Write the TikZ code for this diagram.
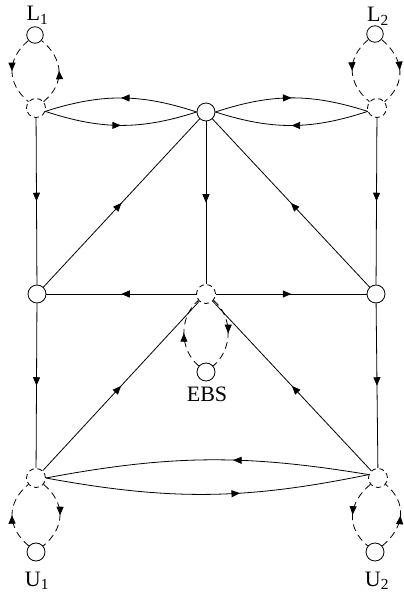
\documentclass[tikz,border=0pt]{standalone}
\usepackage{fontspec}
\setmainfont{Liberation Serif}
\usetikzlibrary{arrows.meta,decorations.markings}
\begin{document}
\begin{tikzpicture}[x=1pt,y=1pt,line width=0.8pt,
  snode/.style={circle,draw,solid,minimum size=18pt,inner sep=0pt},
  smallnode/.style={circle,draw,solid,minimum size=16.5pt,inner sep=0pt},
  dnode/.style={circle,draw,dash pattern=on 5pt off 3.5pt,minimum size=19pt,inner sep=0pt},
  loopline/.style={dash pattern=on 7pt off 4.5pt},
  lbl/.style={font=\fontsize{22}{24}\selectfont,inner sep=0pt,anchor=base},
  midarrow/.style={postaction={decorate},decoration={markings,mark=at position #1 with {\arrow{Triangle[length=8.5pt,width=7pt]}}}},
  midarrow/.default=0.5]
\useasboundingbox (0,0) rectangle (404,598);
% main nodes
\node[dnode] (TL) at (36,490) {};
\node[snode] (TC) at (206,486) {};
\node[dnode] (TR) at (377,490) {};
\node[snode] (ML) at (37,304) {};
\node[dnode] (MC) at (206,304) {};
\node[snode] (MR) at (376,304) {};
\node[dnode] (BL) at (36,120) {};
\node[dnode] (BR) at (378,120) {};
% outer nodes
\node[smallnode] (L1) at (35,563) {};
\node[smallnode] (L2) at (375,564) {};
\node[snode] (EBS) at (206,226) {};
\node[snode] (U1) at (36,46) {};
\node[snode] (U2) at (375,46) {};
% labels
\node[lbl] (L1t) at (37.5,577) {L\textsubscript{1}};
\node[lbl] (L2t) at (378,576) {L\textsubscript{2}};
\node[lbl] (EBSt) at (207,196) {EBS};
\node[lbl] (U1t) at (37,12) {U\textsubscript{1}};
\node[lbl] (U2t) at (377,12) {U\textsubscript{2}};
% straight edges
\draw[midarrow] (TL) -- (ML);
\draw[midarrow] (ML) -- (BL);
\draw[midarrow] (TR) -- (MR);
\draw[midarrow] (MR) -- (BR);
\draw[midarrow] (TC) -- (MC);
\draw[midarrow] (ML) -- (TC);
\draw[midarrow] (MR) -- (TC);
\draw[midarrow] (MC) -- (ML);
\draw[midarrow] (MC) -- (MR);
\draw[midarrow] (BL) -- (MC);
\draw[midarrow] (BR) -- (MC);
% curved pairs
\draw[midarrow] (TC.west) to[bend right=18] (TL.-20);
\draw[midarrow] (TL.-20) to[bend right=18] (TC.west);
\draw[midarrow] (TC.east) to[bend left=18] (TR.200);
\draw[midarrow] (TR.200) to[bend left=18] (TC.east);
\draw[midarrow=0.42] (BR.160) to[bend right=10] (BL.east);
\draw[midarrow=0.6] (BL.east) to[bend right=11] (BR.160);
% dashed loops
\draw[loopline,midarrow] (L1) to[out=220,in=140,looseness=1.2] (TL);
\draw[loopline,midarrow] (TL) to[out=40,in=-40,looseness=1.2] (L1);
\draw[loopline,midarrow] (L2) to[out=220,in=140,looseness=1.2] (TR);
\draw[loopline,midarrow] (L2) to[out=-40,in=40,looseness=1.2] (TR);
\draw[loopline,midarrow] (MC) to[out=-40,in=40,looseness=1.0] (EBS);
\draw[loopline,midarrow] (EBS) to[out=140,in=220,looseness=1.0] (MC);
\draw[loopline,midarrow] (BL) to[out=-40,in=40,looseness=1.2] (U1);
\draw[loopline,midarrow] (U1) to[out=140,in=220,looseness=1.2] (BL);
\draw[loopline,midarrow] (BR) to[out=220,in=140,looseness=1.2] (U2);
\draw[loopline,midarrow] (U2) to[out=40,in=-40,looseness=1.2] (BR);
\end{tikzpicture}
\end{document}
